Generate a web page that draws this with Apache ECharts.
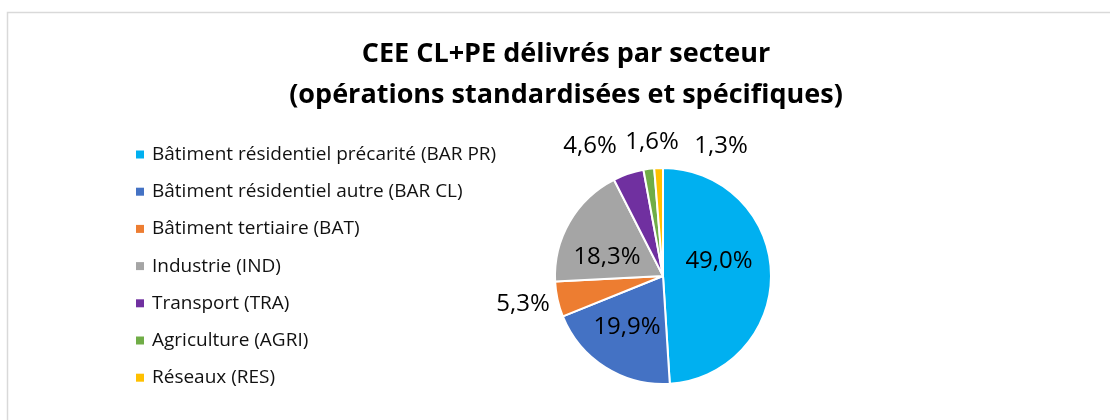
<!DOCTYPE html>
<html>
<head>
<meta charset="utf-8">
<script src="https://cdn.jsdelivr.net/npm/echarts@6/dist/echarts.min.js"></script>
<style>
  html, body { margin: 0; padding: 0; background: #fff; }
  #chart { width: 1110px; height: 420px; }
</style>
</head>
<body>
<div id="chart"></div>
<script>
// secteurs et parts (%)
const categories = [
  "Bâtiment résidentiel précarité (BAR PR)",
  "Bâtiment résidentiel autre (BAR CL)",
  "Bâtiment tertiaire (BAT)",
  "Industrie (IND)",
  "Transport (TRA)",
  "Agriculture (AGRI)",
  "Réseaux (RES)"
];
const shares = [49.0, 19.9, 5.3, 18.3, 4.6, 1.6, 1.3];
const titleLines = ["CEE CL+PE délivrés par secteur", "(opérations standardisées et spécifiques)"];

const colors = ["#00b0f0", "#4472c4", "#ed7d31", "#a5a5a5", "#7030a0", "#70ad47", "#ffc000"];
const font = "'Open Sans', 'DejaVu Sans', sans-serif";

// where the labels sit (as in the Excel original, centre of each label), same order as the data
const labelSpots = [[719, 261], [627, 327], [523, 304], [607, 257], [590, 146], [652, 142], [721, 146]];

const chart = echarts.init(document.getElementById("chart"));

const data = categories.map((name, i) => ({ name: name, value: shares[i] }));

const option = {
  animation: false,
  color: colors,
  graphic: [{
    type: "rect",
    shape: { x: 7.5, y: 12.5, width: 1200, height: 500 },
    style: { fill: "none", stroke: "#d9d9d9", lineWidth: 1.5 },
    silent: true
  }],
  title: {
    text: titleLines.join("\n"),
    left: 561,
    textAlign: "center",
    top: 29,
    textStyle: { fontFamily: font, fontSize: 27, fontWeight: "bold", color: "#000", lineHeight: 41 }
  },
  legend: {
    orient: "vertical",
    left: 136,
    top: 145,
    padding: 0,
    itemWidth: 8,
    itemHeight: 8,
    itemGap: 18.2,
    icon: "rect",
    itemStyle: { borderWidth: 0 },
    textStyle: { fontFamily: font, fontSize: 19, color: "#111", padding: [0, 0, 0, 3], lineHeight: 19 },
    data: categories
  },
  series: [{
    type: "pie",
    center: [663, 276],
    radius: [0, 108],
    startAngle: 90,
    clockwise: true,
    avoidLabelOverlap: false,
    itemStyle: { borderColor: "#fff", borderWidth: 2 },
    label: {
      show: true,
      fontFamily: font,
      fontSize: 24,
      color: "#000",
      formatter: p => p.value.toFixed(1).replace(".", ",") + "%",
      position: "inside"
    },
    labelLine: { show: false },
    labelLayout: p => {
      const s = labelSpots[p.dataIndex];
      return { x: s[0], y: s[1], align: "center", verticalAlign: "middle", hideOverlap: false };
    },
    data: data
  }]
};

chart.setOption(option);
</script>
</body>
</html>
